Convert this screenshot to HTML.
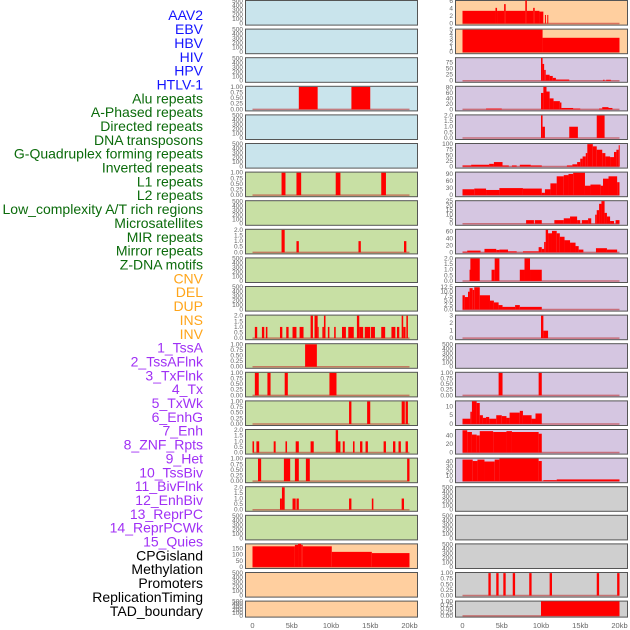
<!DOCTYPE html>
<html><head><meta charset="utf-8">
<style>
html,body{margin:0;padding:0;background:#fff;}
svg{display:block;font-family:"Liberation Sans",sans-serif;}
</style></head>
<body>
<svg id="chart" width="630" height="630" viewBox="0 0 630 630" xmlns="http://www.w3.org/2000/svg">
<g id="labels"></g>
<g id="panels"></g>
<g id="xaxes"></g>
</svg>
<script>
// ---- Track labels ----
const trackLabels = ["AAV2","EBV","HBV","HIV","HPV","HTLV-1","Alu repeats","A-Phased repeats","Directed repeats","DNA transposons","G-Quadruplex forming repeats","Inverted repeats","L1 repeats","L2 repeats","Low_complexity A/T rich regions","Microsatellites","MIR repeats","Mirror repeats","Z-DNA motifs","CNV","DEL","DUP","INS","INV","1_TssA","2_TssAFlnk","3_TxFlnk","4_Tx","5_TxWk","6_EnhG","7_Enh","8_ZNF_Rpts","9_Het","10_TssBiv","11_BivFlnk","12_EnhBiv","13_ReprPC","14_ReprPCWk","15_Quies","CPGisland","Methylation","Promoters","ReplicationTiming","TAD_boundary"];
const labelGroups = ["v","v","v","v","v","v","r","r","r","r","r","r","r","r","r","r","r","r","r","c","c","c","c","c","s","s","s","s","s","s","s","s","s","s","s","s","s","s","s","k","k","k","k","k"];

// ---- Tick label sets ----
const ticks500 = [0,100,200,300,400,500];
const ticks1 = [0,0.25,0.5,0.75,1];
const ticks1Labels = ["0.00","0.25","0.50","0.75","1.00"];
const ticks2 = [0,0.5,1,1.5,2];
const ticks2Labels = ["0.0","0.5","1.0","1.5","2.0"];
const xTicks = [0,5,10,15,20];
const xTickLabels = ["0","5kb","10kb","15kb","20kb"];

// ---- Left column bar data: [startKb, endKb, value] ----
const leftAlu = [[5.9,8.3,1],[12.6,15.0,1]];
const leftL7 = [[3.7,4.2,1],[5.6,6.2,1],[10.6,11.2,1],[16.4,17.0,1]];
const leftL9 = [[3.7,4.1,2],[5.6,5.9,1],[13.5,13.8,1],[19.3,19.6,1]];
const leftL12 = [[0.3,0.6,1],[1.2,1.5,1],[1.7,1.9,1],[3.5,3.8,1],[4.3,4.6,1],[5.1,5.6,1],[6.0,6.5,1],[7.4,7.7,2],[7.9,8.3,2],[8.3,8.4,1],[8.9,9.1,1],[9.1,9.3,2],[9.6,9.8,1],[10.4,10.6,1],[11.4,11.9,1],[12.2,12.9,1],[13.3,13.6,2],[13.6,14.1,1],[14.3,15.0,1],[15.1,15.6,1],[16.4,16.9,1],[17.7,18.2,1],[18.4,18.7,1],[19.0,19.2,2],[19.2,19.5,1],[19.6,19.8,2]];
const leftL13 = [[6.7,8.2,1]];
const leftL14 = [[0.3,0.8,1],[1.9,2.3,1],[4.1,4.5,1],[9.8,10.7,1]];
const leftL15 = [[12.3,12.6,1],[14.6,15.0,1],[19.0,19.4,1],[19.5,19.8,1]];
const leftL16 = [[0.0,0.2,1],[0.5,0.85,1],[2.7,2.95,1],[4.2,4.4,1],[5.5,5.9,1],[7.4,7.8,1],[10.6,10.9,2],[10.9,11.2,1],[11.5,11.75,1],[12.8,13.0,1],[13.7,14.0,1],[14.4,14.7,1],[16.7,17.0,1],[17.9,18.2,1],[18.6,18.9,1],[19.5,19.8,1]];
const leftL17 = [[0.7,1.1,1],[4.0,4.8,1],[5.4,5.9,1],[6.8,7.3,1],[19.7,20.0,1]];
const leftL18 = [[3.5,3.75,1],[3.75,4.1,2],[5.1,5.5,1],[5.6,5.9,1],[12.3,12.6,1],[15.2,15.4,1],[19.0,19.3,1]];
const leftCpg = [[0,5.4,168],[5.4,5.8,180],[5.8,6.2,189],[6.2,6.4,180],[6.4,10.1,168],[10.1,15.2,123],[15.2,20.0,113]];

// ---- Right column bar data ----
const rightR1 = [[0,4.2,3.4],[4.2,4.4,4.2],[4.4,5.3,3.4],[5.3,5.5,5.2],[5.5,8.0,3.4],[8.0,8.2,6.2],[8.2,9.0,3.4],[9.0,9.2,4.2],[9.2,9.8,3.4],[9.8,10.3,3.2],[10.5,10.6,2.3],[10.8,10.9,2.3]];
const rightR2 = [[0,10.2,5],[10.2,20,3.2]];
const rightR3 = [[10.0,10.2,95],[10.2,10.4,70],[10.4,10.6,45],[10.6,11.1,25],[11.1,11.5,20],[11.5,11.9,12],[11.9,13.6,5],[17.9,18.1,4],[18.3,18.9,4]];
const rightR4 = [[3.0,5.0,3],[10.0,10.3,60],[10.3,10.7,82],[10.7,11.1,65],[11.1,11.6,40],[11.6,12.4,30],[12.4,12.6,25],[12.6,14.1,5],[14.1,15.0,3],[17.4,17.8,3],[17.8,18.6,8],[18.6,19.1,5]];
const rightR5 = [[10.0,10.2,2],[10.2,10.5,1],[13.6,14.7,1],[17.1,18.1,2]];
const rightR6 = [[0,1.1,5],[1.1,3.4,8],[3.4,4.0,12],[4.0,5.1,20],[5.1,5.9,5],[6.3,6.9,5],[7.3,8.7,8],[8.7,10.1,5],[13.3,14.0,5],[14.0,14.6,10],[14.6,15.0,20],[15.0,15.3,35],[15.3,15.7,45],[15.7,15.9,60],[15.9,16.6,100],[16.6,17.1,90],[17.1,17.8,75],[17.8,18.2,60],[18.2,18.8,45],[18.8,19.3,42],[19.3,19.6,65],[19.6,19.9,75],[19.9,20.0,95]];
const rightR7 = [[0,1.5,25],[1.5,3.0,28],[3.0,4.7,22],[4.7,7.7,30],[7.7,10.1,28],[10.1,10.5,10],[10.5,11.2,25],[11.2,12.0,50],[12.0,12.9,80],[12.9,13.5,85],[13.5,14.1,90],[14.1,15.6,95],[15.6,16.3,40],[16.3,17.6,45],[17.6,17.9,40],[17.9,18.6,70],[18.6,19.7,80],[19.7,20.0,55]];
const rightR8 = [[8.1,9.1,4],[9.2,10.1,4],[11.7,12.9,4],[12.9,13.7,6],[13.7,14.6,8],[14.6,15.0,4],[15.2,16.0,4],[16.0,16.4,6],[16.9,17.1,10],[17.1,17.4,15],[17.4,17.7,22],[17.7,18.1,25],[18.1,18.4,12],[18.4,18.8,8],[18.8,19.3,3],[19.5,20.0,4]];
const rightR9 = [[0,0.6,2],[0.6,2.3,5],[2.8,4.3,10],[4.3,4.7,7],[4.7,5.8,8],[5.8,6.9,3],[7.7,9.7,3],[9.7,10.1,15],[10.1,10.4,10],[10.4,10.6,30],[10.6,10.9,65],[10.9,11.4,55],[11.4,12.0,62],[12.0,12.4,55],[12.4,13.0,45],[13.0,13.7,35],[13.7,14.4,28],[14.4,14.8,18],[14.8,15.4,8],[17.0,18.4,12],[18.4,19.7,8]];
const rightR10 = [[0.9,1.0,1],[1.0,2.2,2],[3.7,4.1,1],[4.1,4.7,2],[7.3,7.9,1],[7.9,8.6,2],[8.6,10.1,1]];
const rightR11 = [[0,0.3,8],[0.3,0.7,7],[0.7,0.9,10],[0.9,1.3,12],[1.3,1.5,11],[1.5,2.2,12.5],[2.2,3.5,8],[3.5,4.0,5],[4.0,4.6,4],[4.6,5.1,2.5],[5.1,6.7,1.5],[6.7,7.3,2.5],[7.3,10.1,1.5]];
const rightR12 = [[10.0,10.3,3],[10.3,10.9,1]];
const rightR14 = [[4.6,5.1,1],[9.7,10.1,1]];
const rightR15 = [[0,1.0,3],[1.0,1.2,7],[1.2,1.8,13],[1.8,2.2,12],[2.2,2.6,5],[2.6,3.0,3.5],[3.0,3.4,4],[3.4,4.3,3],[4.3,5.0,5],[5.0,5.6,4.5],[5.6,6.0,3.5],[6.0,7.3,6.5],[7.3,7.7,7.5],[7.7,8.8,5],[8.8,9.3,3],[9.3,10.1,6]];
const rightR16 = [[0,0.6,52],[0.6,1.2,48],[1.2,1.8,42],[1.8,2.2,40],[2.2,3.9,50],[3.9,5.6,48],[5.6,6.3,50],[6.3,9.7,48],[9.7,10.1,44]];
const rightR17 = [[0,1.3,44],[1.3,1.9,41],[1.9,2.8,44],[2.8,4.1,40],[4.1,4.7,44],[4.7,9.7,46],[9.7,10.1,41],[10.3,12.0,2],[12.0,20.0,3.5]];
const rightR21 = [[3.3,3.6,1],[4.3,4.6,1],[5.2,5.5,1],[6.4,6.7,1],[8.5,8.8,1],[11.1,11.4,1],[17.1,17.4,1],[19.7,20.0,1]];
const rightR22 = [[10.0,20.0,1]];

// ---- Custom tick sets for right column ----
const ticksR1 = [0,2,4,6];
const ticksR2 = [0,1,2,3,4,5];
const ticksR3 = [0,25,50,75];
const ticksR4 = [0,20,40,60,80];
const ticksR6 = [0,25,50,75,100];
const ticksR7 = [0,30,60,90];
const ticksR8 = [0,5,10,15,20,25];
const ticksR9 = [0,20,40,60];
const ticksR11 = [0,2.5,5,7.5,10,12.5];
const ticksR11Labels = ["0.0","2.5","5.0","7.5","10.0","12.5"];
const ticksR12 = [0,1,2,3];
const ticksR15 = [0,5,10];
const ticksR16 = [0,20,40];
const ticksR17 = [0,10,20,30,40];
const ticksCpg = [0,50,100,150];

const BG = {blue:"#c9e4ec", green:"#c8e0a4", orange:"#ffcf9f", purple:"#d5c6e1", gray:"#cfcfcf"};
const leftPanels = [
 [null,ticks500,null,525,"blue"],[null,ticks500,null,525,"blue"],[null,ticks500,null,525,"blue"],
 [leftAlu,ticks1,ticks1Labels,1.05,"blue"],[null,ticks500,null,525,"blue"],[null,ticks500,null,525,"blue"],
 [leftL7,ticks1,ticks1Labels,1.05,"green"],[null,ticks500,null,525,"green"],[leftL9,ticks2,ticks2Labels,2.1,"green"],
 [null,ticks500,null,525,"green"],[null,ticks500,null,525,"green"],[leftL12,ticks2,ticks2Labels,2.1,"green"],
 [leftL13,ticks1,ticks1Labels,1.05,"green"],[leftL14,ticks1,ticks1Labels,1.05,"green"],[leftL15,ticks1,ticks1Labels,1.05,"green"],
 [leftL16,ticks2,ticks2Labels,2.1,"green"],[leftL17,ticks1,ticks1Labels,1.05,"green"],[leftL18,ticks2,ticks2Labels,2.1,"green"],
 [null,ticks500,null,525,"green"],[leftCpg,ticksCpg,null,192,"orange"],[null,ticks500,null,525,"orange"],[null,ticks500,null,525,"orange"]
];
const rightPanels = [
 [rightR1,ticksR1,null,6.3,"orange"],[rightR2,ticksR2,null,5.25,"orange"],[rightR3,ticksR3,null,98,"purple"],
 [rightR4,ticksR4,null,86,"purple"],[rightR5,ticks2,ticks2Labels,2.1,"purple"],[rightR6,ticksR6,null,105,"purple"],
 [rightR7,ticksR7,null,100,"purple"],[rightR8,ticksR8,null,26,"purple"],[rightR9,ticksR9,null,68,"purple"],
 [rightR10,ticks2,ticks2Labels,2.1,"purple"],[rightR11,ticksR11,ticksR11Labels,13.2,"purple"],[rightR12,ticksR12,null,3.15,"purple"],
 [null,ticks500,null,525,"purple"],[rightR14,ticks1,ticks1Labels,1.05,"purple"],[rightR15,ticksR15,null,13.5,"purple"],
 [rightR16,ticksR16,null,55,"purple"],[rightR17,ticksR17,null,48,"purple"],[null,ticks500,null,525,"gray"],
 [null,ticks500,null,525,"gray"],[null,ticks500,null,525,"gray"],[rightR21,ticks1,ticks1Labels,1.05,"gray"],[rightR22,ticks1,ticks1Labels,1.05,"gray"]
];

const NS = "http://www.w3.org/2000/svg";
function mk(tag, attrs, parent){const e=document.createElementNS(NS,tag);for(const k in attrs)e.setAttribute(k,attrs[k]);parent.appendChild(e);return e;}
const COLORS = {v:"#1414ff", r:"#0b6b0b", c:"#ffa51a", s:"#a030f5", k:"#000000"};

const gl = document.getElementById("labels");
trackLabels.forEach((t,i)=>{
  const e = mk("text",{x:203,y:(20.2+i*13.85).toFixed(1),"text-anchor":"end","font-size":"14",fill:COLORS[labelGroups[i]]},gl);
  e.textContent = t;
  
  
});

const gp = document.getElementById("panels");
function xScale(col, kb){ return (col===0?252.5:462.5) + kb*7.85; }
function drawColumn(panels, col){
  const px = col===0?245:455, pw = 172;
  panels.forEach((p,i)=>{
    const [bars,ticks,tlabels,hi,bg] = p;
    const top = i*28.6;
    const h = i===21 ? 16 : 24.6;
    const lo = -0.045*hi;
    const ys = v => top + h - (v-lo)/(hi-lo)*h;
    const g = mk("g",{},gp);
    
    
    const r = mk("rect",{x:px+0.5,y:top+0.5,width:pw,height:h,fill:BG[bg],stroke:"#555",
      "stroke-width":"1"},g);
    
    
    // ticks
    ticks.forEach((t,j)=>{
      const lab = tlabels ? tlabels[j] : String(t);
      const te = mk("text",{x:px-2,y:(ys(t)+2).toFixed(1),"text-anchor":"end","font-size":"6.5",fill:"#666"},g);
      te.textContent = lab;
      
      
    });
    if(bars){
      const bl = mk("line",{x1:xScale(col,0),x2:xScale(col,20),y1:ys(0),y2:ys(0),stroke:"rgba(190,40,40,0.55)","stroke-width":"1.5"},g);
      
      
      bars.forEach(b=>{
        const x1 = xScale(col,b[0]), x2 = xScale(col,b[1]);
        const y1 = ys(b[2]), y0 = ys(0);
        const br = mk("rect",{x:x1.toFixed(2),y:y1.toFixed(2),width:Math.max(1,x2-x1).toFixed(2),height:Math.max(0,y0-y1).toFixed(2),fill:"#ff0000"},g);
        
        
      });
    }
  });
}
drawColumn(leftPanels,0);
drawColumn(rightPanels,1);

const gx = document.getElementById("xaxes");
[0,1].forEach(col=>{
  xTicks.forEach((t,j)=>{
    const te = mk("text",{x:xScale(col,t).toFixed(1),y:628,"text-anchor":"middle","font-size":"7.5",fill:"#666"},gx);
    te.textContent = xTickLabels[j];
    
    
  });
});
</script>
</body></html>
